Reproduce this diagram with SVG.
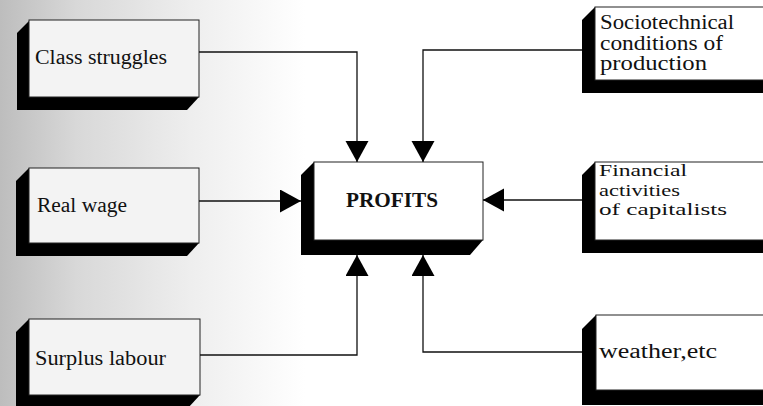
<svg xmlns="http://www.w3.org/2000/svg" width="763" height="406" viewBox="0 0 763 406">
<defs>
<linearGradient id="bg" x1="0" y1="0" x2="1" y2="0">
<stop offset="0" stop-color="#bdbdbd"/>
<stop offset="0.1" stop-color="#d8d8d8"/>
<stop offset="0.25" stop-color="#eeeeee"/>
<stop offset="0.4" stop-color="#ffffff"/>
</linearGradient>
<marker id="ah" markerUnits="userSpaceOnUse" markerWidth="22" markerHeight="24" refX="21" refY="11.5" orient="auto" viewBox="0 0 22 24">
<path d="M0,0 L21,11.5 L0,23 Z" fill="#000"/>
</marker>
</defs>
<style>
.sh{fill:#000}
.fl{fill:#f3f3f3;stroke:#222;stroke-width:1}
.fr{fill:#fff;stroke:#222;stroke-width:1}
.t{font-family:"Liberation Serif","DejaVu Serif",serif;font-size:20px;fill:#111}
.s{font-size:17px}
.b{font-family:"Liberation Serif","DejaVu Serif",serif;font-size:21px;font-weight:bold;fill:#111}
.c{fill:none;stroke:#111;stroke-width:1.3;marker-end:url(#ah)}
</style>
<rect x="0" y="0" width="763" height="406" fill="url(#bg)"/>

<g id="class-struggles">
<polygon class="sh" points="29,21 17,33 17,110 187,110 199,97"/>
<rect class="fl" x="29" y="20" width="170" height="77"/>
<text class="t" x="35" y="64" textLength="132" lengthAdjust="spacingAndGlyphs">Class struggles</text>
</g>

<g id="real-wage">
<polygon class="sh" points="29,168 16,181 16,256 187,256 199,243"/>
<rect class="fl" x="29" y="168" width="170" height="75"/>
<text class="t" x="37" y="212" textLength="90" lengthAdjust="spacingAndGlyphs">Real wage</text>
</g>

<g id="surplus-labour">
<polygon class="sh" points="29,319 16,332 16,408 188,408 200,395"/>
<rect class="fl" x="29" y="319" width="171" height="76"/>
<text class="t" x="35" y="365" textLength="131" lengthAdjust="spacingAndGlyphs">Surplus labour</text>
</g>

<g id="profits">
<polygon class="sh" points="314,162 301,175 301,255 470,255 483,240"/>
<rect class="fr" x="314" y="162" width="169" height="78"/>
<text class="b" x="346" y="207" textLength="92" lengthAdjust="spacingAndGlyphs">PROFITS</text>
</g>

<g id="sociotechnical">
<polygon class="sh" points="595,7 582,20 582,93 770,93 770,80"/>
<rect class="fr" x="595" y="7" width="180" height="73"/>
<text class="t" x="600" y="29" textLength="134" lengthAdjust="spacingAndGlyphs">Sociotechnical</text>
<text class="t" x="600" y="50" textLength="123" lengthAdjust="spacingAndGlyphs">conditions of</text>
<text class="t" x="600" y="70" textLength="107" lengthAdjust="spacingAndGlyphs">production</text>
</g>

<g id="financial">
<polygon class="sh" points="595,162 582,175 582,253 770,253 770,240"/>
<rect class="fr" x="595" y="162" width="180" height="78"/>
<text class="t s" x="599" y="176" textLength="88" lengthAdjust="spacingAndGlyphs">Financial</text>
<text class="t s" x="599" y="195.5" textLength="81" lengthAdjust="spacingAndGlyphs">activities</text>
<text class="t s" x="599" y="215" textLength="128" lengthAdjust="spacingAndGlyphs">of capitalists</text>
</g>

<g id="weather">
<polygon class="sh" points="596,315 582,329 582,405 770,405 770,390"/>
<rect class="fr" x="596" y="315" width="180" height="75"/>
<text class="t" x="599" y="358" textLength="118" lengthAdjust="spacingAndGlyphs">weather,etc</text>
</g>

<g id="connectors">
<path class="c" d="M199,52 H357 V162"/>
<path class="c" d="M582,50 H423 V162"/>
<path class="c" d="M199,201 H301"/>
<path class="c" d="M582,200 H483"/>
<path class="c" d="M200,355 H357 V255"/>
<path class="c" d="M582,352 H423 V255"/>
</g>
</svg>
